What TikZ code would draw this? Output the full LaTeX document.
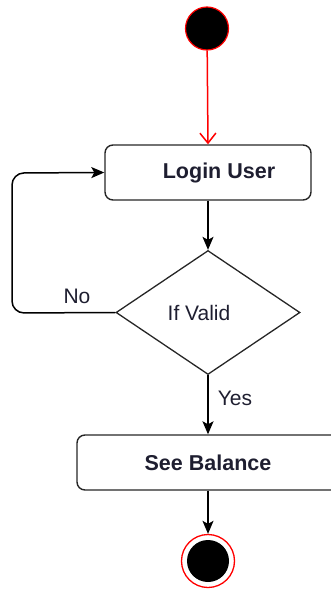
\documentclass[tikz,border=0pt]{standalone}
\usepackage{fontspec}
\setmainfont{Liberation Sans}
\usetikzlibrary{arrows.meta,shapes.geometric}
\definecolor{txt}{HTML}{1E1E30}
\tikzset{
  every node/.style={font=\fontsize{21}{25}\selectfont, text=txt},
  boldtxt/.style={font=\fontsize{21.5}{25}\selectfont\bfseries},
  actbox/.style={draw=black!85, line width=1.4pt, rounded corners=8pt, inner sep=0pt, minimum height=55pt},
  cond/.style={draw=black!85, line width=1.3pt, diamond, aspect=1.5, inner sep=0pt, minimum width=184pt, minimum height=124pt},
  flow/.style={draw=black, line width=1.5pt, -{Stealth[length=13pt,width=11pt,inset=3pt]}},
  startdot/.style={circle, fill=black, draw=red, line width=1.2pt, minimum size=43pt, inner sep=0pt},
  enddot/.style={circle, draw=red, line width=1.3pt, minimum size=53pt, inner sep=0pt},
  lbl/.style={inner sep=0pt},
}
\begin{document}
\begin{tikzpicture}[x=1pt,y=-1pt]
\useasboundingbox (0,0) rectangle (330,589);
\node[startdot] (start) at (207,28.5) {};
\node[actbox, minimum width=206pt] (login) at (208,172.5) {};
\node[lbl, boldtxt] (logintxt) at (219,173) {Login User};
\node[cond] (valid) at (208,312.5) {};
\node[lbl] (validtxt) at (199,313) {If Valid};
\node[actbox, minimum width=262pt] (bal) at (208,462.5) {};
\node[lbl, boldtxt] (baltxt) at (208,463) {See Balance};
\node[enddot] (end) at (208,561) {};
\node[circle, fill=black, minimum size=42pt, inner sep=0pt] (endin) at (208,561) {};
\node[lbl] (no) at (77,296) {No};
\node[lbl] (yes) at (235,398) {Yes};
\coordinate (c1) at (12,313);
\coordinate (c2) at (12,173);
\draw[red, line width=1.5pt, -{Straight Barb[length=10pt,width=16pt]}] (start) -- (login.north);
\draw[flow] (login.south) -- (valid.north);
\draw[flow] (valid.south) -- (bal.north);
\draw[flow] (bal.south) -- (end.north);
\draw[flow, rounded corners=12pt] (valid.west) -- (c1) -- (c2) -- (login.west);
\end{tikzpicture}
\end{document}
